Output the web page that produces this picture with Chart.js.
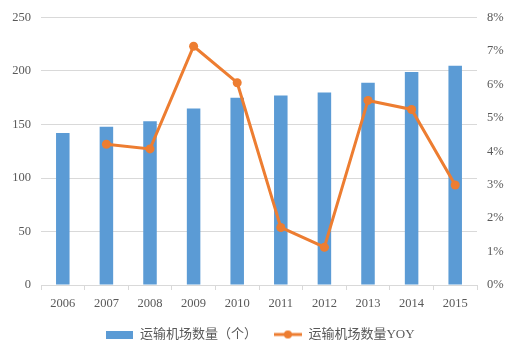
<!DOCTYPE html>
<html>
<head>
<meta charset="utf-8">
<script src="https://cdn.jsdelivr.net/npm/chart.js@4/dist/chart.umd.min.js"></script>
<style>
  html, body { margin: 0; padding: 0; background: #fff; }
  #wrap { width: 520px; height: 352px; }
</style>
</head>
<body>
<div id="wrap"><canvas id="airportChart"></canvas></div>
<script>
const years = ["2006", "2007", "2008", "2009", "2010", "2011", "2012", "2013", "2014", "2015"];
const airportCount = [142, 148, 153, 165, 175, 177, 180, 189, 199, 205];
const airportYoy = [null, 4.21, 4.07, 7.14, 6.05, 1.72, 1.13, 5.52, 5.25, 2.99];
const seriesNames = ["运输机场数量（个）", "运输机场数量YOY"];

const BLUE = "#5B9BD5";
const ORANGE = "#ED7D31";
const GREY = "#595959";
const FONT = '"Liberation Serif", "Times New Roman", "Noto Sans CJK SC", serif';

// little legend glyphs
function boxGlyph() {
  const c = document.createElement("canvas");
  c.width = 27; c.height = 8;
  const g = c.getContext("2d");
  g.fillStyle = BLUE;
  g.fillRect(0, 0, 27, 8);
  return c;
}
function lineGlyph() {
  const c = document.createElement("canvas");
  c.width = 28; c.height = 10;
  const g = c.getContext("2d");
  g.strokeStyle = ORANGE;
  g.lineWidth = 3;
  g.beginPath(); g.moveTo(0, 5); g.lineTo(28, 5); g.stroke();
  g.fillStyle = ORANGE;
  g.beginPath(); g.arc(14, 5, 4, 0, Math.PI * 2); g.fill();
  return c;
}
const glyphs = [boxGlyph(), lineGlyph()];

const ctx = document.getElementById("airportChart").getContext("2d");

new Chart(ctx, {
  data: {
    labels: years,
    datasets: [
      {
        type: "line",
        label: seriesNames[1],
        data: airportYoy,
        yAxisID: "yRight",
        borderColor: ORANGE,
        backgroundColor: ORANGE,
        borderWidth: 3,
        pointRadius: 4.5,
        pointBackgroundColor: ORANGE,
        pointBorderWidth: 0,
        tension: 0,
        order: 0
      },
      {
        type: "bar",
        label: seriesNames[0],
        data: airportCount,
        yAxisID: "yLeft",
        backgroundColor: BLUE,
        barPercentage: 0.62,
        categoryPercentage: 0.5,
        order: 1
      }
    ]
  },
  options: {
    responsive: true,
    maintainAspectRatio: false,
    animation: false,
    layout: { padding: { top: 15, bottom: 1, left: 0, right: 0 } },
    plugins: {
      tooltip: { enabled: false },
      legend: {
        position: "bottom",
        reverse: true,
        labels: {
          usePointStyle: true,
          pointStyleWidth: 28,
          color: GREY,
          padding: 17,
          font: { family: FONT, size: 13 },
          generateLabels(chart) {
            return chart.data.datasets.map((ds, i) => ({
              text: ds.label,
              pointStyle: i === 0 ? glyphs[1] : glyphs[0],
              fillStyle: ds.backgroundColor,
              strokeStyle: ds.backgroundColor,
              lineWidth: 0,
              fontColor: GREY,
              datasetIndex: i,
              hidden: false
            }));
          }
        }
      }
    },
    scales: {
      x: {
        offset: true,
        grid: { display: true, drawOnChartArea: false, color: "#D9D9D9", tickLength: 5, offset: true },
        border: { color: "#D9D9D9" },
        ticks: { color: GREY, font: { family: FONT, size: 12.5 }, padding: 6, maxRotation: 0 },
        afterFit(scale) { scale.height = 26; }
      },
      yLeft: {
        position: "left",
        min: 0,
        max: 250,
        ticks: { stepSize: 50, color: GREY, font: { family: FONT, size: 12.5 }, padding: 10 },
        grid: { color: "#D9D9D9", drawTicks: false },
        border: { display: false },
        afterFit(scale) { scale.width = 41; }
      },
      yRight: {
        position: "right",
        min: 0,
        max: 8,
        ticks: {
          stepSize: 1,
          color: GREY,
          font: { family: FONT, size: 12.5 },
          padding: 10,
          callback: v => v + "%"
        },
        grid: { display: false, drawTicks: false },
        border: { display: false },
        afterFit(scale) { scale.width = 43; }
      }
    }
  }
});
</script>
</body>
</html>
